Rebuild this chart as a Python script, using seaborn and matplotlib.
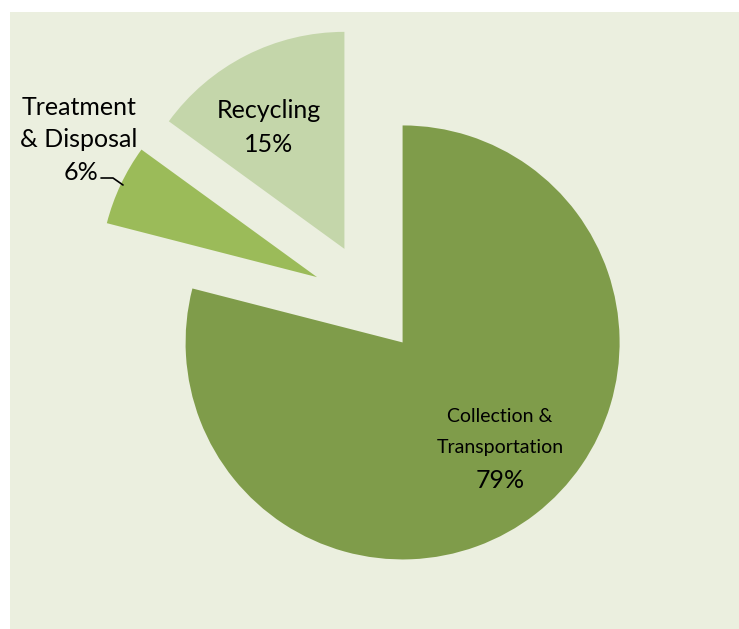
import matplotlib
matplotlib.use("Agg")
import matplotlib.pyplot as plt
from matplotlib.patches import Rectangle
import seaborn as sns

# ---- data ----
categories = ["Collection & Transportation", "Treatment & Disposal", "Recycling"]
shares = [79, 6, 15]
colors = ["#7F9C4A", "#9BBB59", "#C4D6AA"]
explode = [0.23, 0.28, 0.28]

sns.set_style("white")
plt.rcParams["font.family"] = ["Lato", "DejaVu Sans"]

W, H = 739, 629
fig = plt.figure(figsize=(W / 100, H / 100), dpi=100)
fig.patch.set_facecolor("white")
fig.patches.append(Rectangle((10 / W, 0), 1 - 10 / W, 1 - 12 / H,
                             transform=fig.transFigure, facecolor="#EBEFDF",
                             edgecolor="none", zorder=-10))
ax = fig.add_axes([0, 0, 1, 1])
ax.set_zorder(5)
ax.set_facecolor("none")
ax.patch.set_alpha(0)

wedges, _ = ax.pie(shares, colors=sns.color_palette(colors), explode=explode,
                   startangle=90, counterclock=False, radius=1.0,
                   wedgeprops=dict(linewidth=0))

# pixel -> data conversion (pie centre at pixel 372,303; radius 217 px)
cx, cy, r = 372.0, 303.0, 217.0
ax.set_xlim((0 - cx) / r, (W - cx) / r)
ax.set_ylim((cy - H) / r, (cy - 0) / r)
ax.set_aspect("auto")
ax.axis("off")

def P(x, y):
    return ((x - cx) / r, (cy - y) / r)

def label(x, y, s, size, ha="center"):
    ax.text(*P(x, y), s, ha=ha, va="center", fontsize=size, color="black")

# Recycling
label(269, 111, "Recycling", 18)
label(269, 144, "15%", 18)
# Treatment & Disposal
label(137, 107, "Treatment", 18, ha="right")
label(137, 139, "& Disposal", 18, ha="right")
label(98, 172, "6%", 18, ha="right")
ax.plot([P(101, 178)[0], P(113, 178)[0], P(123, 185)[0]],
        [P(101, 178)[1], P(113, 178)[1], P(123, 185)[1]],
        color="black", lw=1.2)
# Collection & Transportation
label(500, 416, "Collection &", 14)
label(500, 448, "Transportation", 14)
label(500, 481, "79%", 18)

fig.savefig("out.png", dpi=100, facecolor="white")
